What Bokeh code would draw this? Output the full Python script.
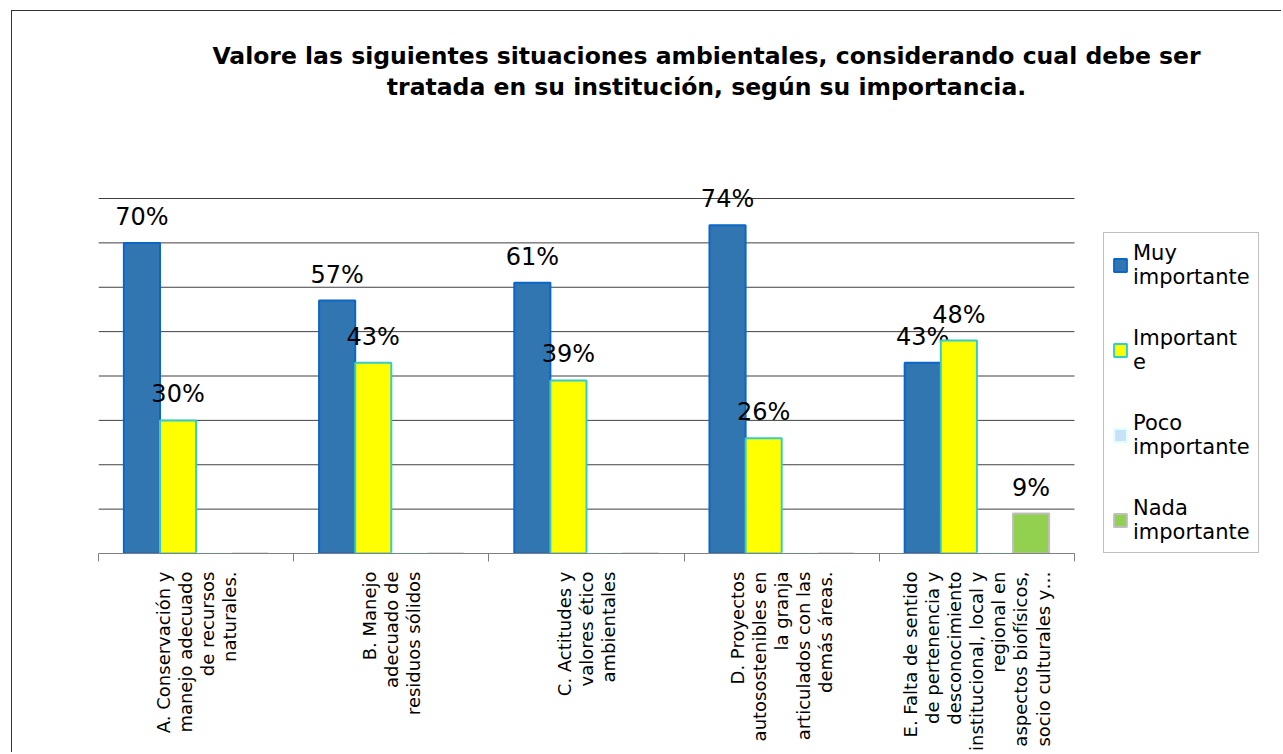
import math
from bokeh.plotting import figure
from bokeh.models import (Range1d, LinearAxis, FixedTicker, ColumnDataSource,
                          Legend, LegendItem, Label)
from bokeh.transform import dodge
from bokeh.core.properties import value
from bokeh.embed import file_html
from bokeh.resources import INLINE

# ---------------- data ----------------
keys = ["A", "B", "C", "D", "E"]
tick_labels = [
    "A. Conservación y\nmanejo adecuado\nde recursos\nnaturales.",
    "B. Manejo\nadecuado de\nresiduos sólidos",
    "C. Actitudes y\nvalores ético\nambientales",
    "D. Proyectos\nautosostenibles en\nla granja\narticulados con las\ndemás áreas.",
    "E. Falta de sentido\nde pertenencia y\ndesconocimiento\ninstitucional, local y\nregional en\naspectos biofísicos,\nsocio culturales y…",
]
series_names = ["Muy importante", "Importante", "Poco importante", "Nada importante"]
legend_labels = ["Muy\nimportante", "Important\ne", "Poco\nimportante", "Nada\nimportante"]
muy_importante = [70, 57, 61, 74, 43]
importante = [30, 43, 39, 26, 48]
poco_importante = [0, 0, 0, 0, 0]
nada_importante = [0, 0, 0, 0, 9]
grid_values = [10, 20, 30, 40, 50, 60, 70, 80]
title_lines = ["Valore las siguientes situaciones ambientales, considerando cual debe ser",
               "tratada en su institución, según su importancia."]

values = [muy_importante, importante, poco_importante, nada_importante]
fills = ["#3276b1", "#ffff00", "#c9e1f7", "#92d050"]
lines = ["#0a66c8", "#33cccc", "#ddffff", "#bfbfbf"]
offsets = [-0.2775, -0.0925, 0.0925, 0.2775]
bar_w = 0.185
FONT = "DejaVu Sans"

n = len(keys)
centers = [i + 0.5 for i in range(n)]
bounds = [i for i in range(n + 1)]

# layout geometry (pixels)
W, H = 1270, 742
MB_LEFT, MB_TOP, MB_BOTTOM = 86, 2, 200
CAT_PX = 976 / n            # width of one category slot
PCT_PX = 4.4375             # pixels per percent
frame_w = W - MB_LEFT
frame_h = H - MB_TOP - MB_BOTTOM
X_MAX = frame_w / CAT_PX
Y_TOP = frame_h / PCT_PX

p = figure(width=W, height=H, x_range=Range1d(0, X_MAX), y_range=Range1d(0, Y_TOP),
           output_backend="svg", toolbar_location=None,
           x_axis_location=None, y_axis_location=None,
           min_border_left=MB_LEFT, min_border_right=0, min_border_top=MB_TOP,
           min_border_bottom=MB_BOTTOM)
p.outline_line_color = None
p.xgrid.visible = False
p.ygrid.visible = False
p.styles = {"border-left": "1px solid #333333", "border-top": "1px solid #333333",
            "margin-left": "11px", "margin-top": "10px"}

xaxis = LinearAxis(ticker=FixedTicker(ticks=centers, minor_ticks=bounds), bounds=(0, n),
                   major_label_overrides={c: t for c, t in zip(centers, tick_labels)},
                   major_tick_line_color=None, major_tick_out=0, major_tick_in=0,
                   minor_tick_out=8, minor_tick_in=0, minor_tick_line_color="#808080",
                   axis_line_color="#808080",
                   major_label_orientation=math.pi / 2, major_label_standoff=10,
                   major_label_text_font=FONT, major_label_text_font_size="18px",
                   major_label_text_line_height=1.05, major_label_text_color="#000000")
p.add_layout(xaxis, "below")

# horizontal grid lines spanning the category area
p.segment(x0=[0] * len(grid_values), x1=[n] * len(grid_values), y0=grid_values, y1=grid_values,
          line_color="#404040", line_width=1)

items = []
for name, lab, vals, fc, lc, off in zip(series_names, legend_labels, values, fills, lines, offsets):
    src = ColumnDataSource(dict(cat=keys, pos=centers, val=vals))
    r = p.vbar(x=dodge("pos", off), top="val", width=bar_w, source=src,
               fill_color=fc, line_color=lc, line_width=2)
    items.append(LegendItem(label=lab, renderers=[r]))
    nz = [(c, v) for c, v in zip(centers, vals) if v > 0]
    if nz:
        lsrc = ColumnDataSource(dict(pos=[c for c, _ in nz], val=[v for _, v in nz],
                                     txt=[f"{v}%" for _, v in nz]))
        p.text(x=dodge("pos", off), y="val", text="txt", source=lsrc,
               text_align="center", text_baseline="alphabetic", y_offset=-26,
               text_font=value(FONT), text_font_size="24px", text_color="#000000")

legend = Legend(items=items, location=(1005, 0), glyph_width=16, glyph_height=16,
                label_standoff=5, padding=8, spacing=37, margin=0,
                label_text_font=FONT, label_text_font_size="21px",
                label_text_color="#000000",
                border_line_color="#808080", border_line_width=1,
                background_fill_color="#ffffff")
p.add_layout(legend)

for txt, yy in zip(title_lines, [498, 467]):
    p.add_layout(Label(x=608, y=yy, x_units="screen", y_units="screen", text=txt,
                       text_align="center", text_baseline="alphabetic",
                       text_font=FONT, text_font_style="bold", text_font_size="23.5px",
                       text_color="#000000"))

open("out.html", "w").write(file_html(p, INLINE))
